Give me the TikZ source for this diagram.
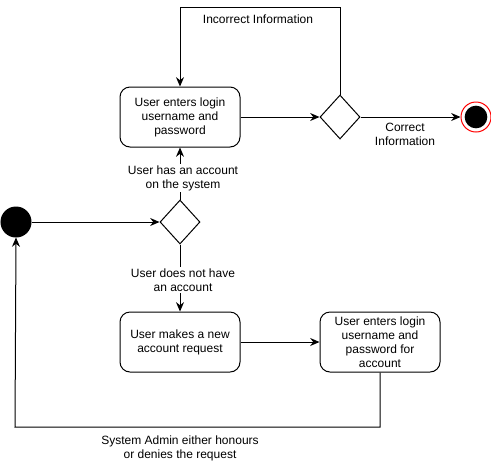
\documentclass[tikz,border=0pt]{standalone}
\usepackage{fontspec}
\setmainfont{Liberation Sans}
\usetikzlibrary{arrows.meta,shapes.geometric}

\tikzset{every picture/.style={line width=0.75pt}}
\tikzset{
  actbox/.style={draw, rounded corners=7.5pt, minimum width=90pt, minimum height=45pt, align=center, inner sep=1pt, font=\fontsize{9}{10.5}\selectfont},
  decision/.style={draw, diamond, minimum width=30pt, minimum height=33pt, inner sep=0pt},
  lbl/.style={align=center, font=\fontsize{9}{10.5}\selectfont, fill=white, inner sep=1pt},
  flow/.style={-{Stealth[length=7pt,width=6pt]}}
}

\begin{document}
\begin{tikzpicture}[x=0.75pt,y=0.75pt,yscale=-1,xscale=1]
\useasboundingbox (0,0) rectangle (491,461);

%Start point
\node (start) [draw, circle, fill=black, minimum size=22.5pt, inner sep=0pt] at (16,222) {};
%Decision: has account?
\node (acc) [decision] at (180,222) {};
%Login activity
\node (login) [actbox] at (180,117) {User enters login\\username and\\password};
%Decision: info correct?
\node (check) [decision] at (340,117) {};
%End point
\node (stop) [draw=red, circle, fill=white, minimum size=22.5pt, inner sep=0pt] at (476,117) {};
\node (stopin) [circle, fill=black, minimum size=17pt, inner sep=0pt] at (476,117) {};
%New account request
\node (request) [actbox] at (180,342) {User makes a new\\account request};
%Login for new account
\node (newlogin) [actbox] at (380,342) {User enters login\\username and\\password for\\account};

%Loop corners
\coordinate (topl) at (180,7);
\coordinate (topr) at (340,7);
\coordinate (botl) at (15,427);
\coordinate (botr) at (380,427);

%Connectors
\draw [flow] (start) -- (acc);
\draw [flow] (acc) -- (login);
\draw [flow] (acc) -- (request);
\draw [flow] (login) -- (check);
\draw [flow] (check) -- (stop);
\draw [flow] (check.north) -- (topr) -- (topl) -- (login.north);
\draw [flow] (request) -- (newlogin);
\draw [flow] (newlogin.south) -- (botr) -- (botl) -- (start.south);

% Text Node
\node (incorrect) [lbl] at (258,19) {Incorrect Information};
% Text Node
\node (correct) [lbl] at (405,134) {Correct\\Information};
% Text Node
\node (hasacc) [lbl] at (183,178) {User has an account\\on the system};
% Text Node
\node (noacc) [lbl] at (183,280) {User does not have\\an account};
% Text Node
\node (admin) [lbl] at (180,448) {System Admin either honours\\or denies the request};

\end{tikzpicture}
\end{document}
